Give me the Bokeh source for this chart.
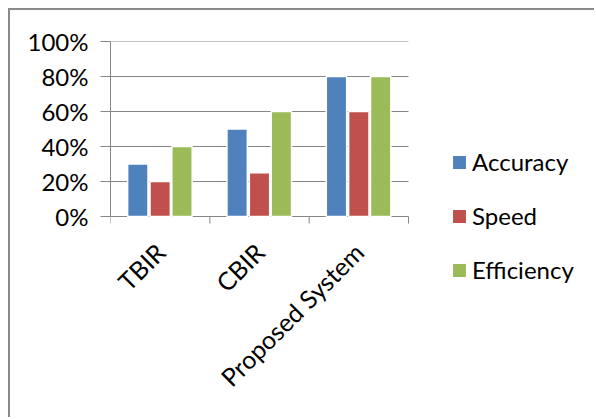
import math
from bokeh.plotting import figure
from bokeh.models import (Range1d, FixedTicker, NumeralTickFormatter, Legend, LegendItem,
                          ColumnDataSource)
from bokeh.core.properties import value
from bokeh.transform import dodge
from bokeh.embed import file_html
from bokeh.resources import INLINE

categories = ["TBIR", "CBIR", "Proposed System"]
series_names = ["Accuracy", "Speed", "Efficiency"]
accuracy = [0.30, 0.50, 0.80]
speed = [0.20, 0.25, 0.60]
efficiency = [0.40, 0.60, 0.80]
y_ticks = [0, 0.2, 0.4, 0.6, 0.8, 1.0]

colors = ["#4F81BD", "#C0504D", "#9BBB59"]
offsets = [-0.225, 0.0, 0.22]
FONT = "Lato"
GRAY = "#868686"
BORDER = "2px solid #8a8a8a"

# layout geometry (pixels)
W, H = 586, 409            # inner figure size (plus 8px margin + 2px border)
LEFT, TOP = 100, 31        # frame offsets inside figure
PLOT_W, PLOT_H = 298, 175  # width of the 3 category slots, height of the 0..100% span
frame_w, frame_h = W - LEFT, H - TOP

n = len(categories)
px_x = PLOT_W / n          # pixels per category
px_y = PLOT_H / 1.0        # pixels per 100%
centers = [i + 0.5 for i in range(n)]
edges = list(range(n + 1))

src = ColumnDataSource(dict(x=centers, cat=categories, Accuracy=accuracy, Speed=speed,
                            Efficiency=efficiency))

p = figure(x_range=Range1d(0, frame_w / px_x), y_range=Range1d(1 - frame_h / px_y, 1),
           width=W, height=H, output_backend="svg", toolbar_location=None,
           x_axis_location=None, y_axis_location="left",
           min_border_left=LEFT, min_border_right=0, min_border_top=TOP, min_border_bottom=0)
p.margin = (8, 0, 0, 8)
p.styles = {"border-top": BORDER, "border-left": BORDER}
p.outline_line_color = None
p.background_fill_color = "white"
p.border_fill_color = "white"
p.xgrid.visible = False
p.ygrid.visible = False

# y axis (percent)
ya = p.yaxis[0]
ya.bounds = (0, 1)
ya.ticker = FixedTicker(ticks=y_ticks)
ya.formatter = NumeralTickFormatter(format="0%")
ya.major_tick_out = 10
ya.major_tick_in = 0
ya.minor_tick_line_color = None
ya.axis_line_color = GRAY
ya.major_tick_line_color = GRAY
ya.major_label_text_font = FONT
ya.major_label_text_font_size = "24px"
ya.major_label_text_color = "black"
ya.major_label_standoff = 12

# horizontal grid lines over the category span (0% line doubles as x axis line)
p.segment(x0=[0] * len(y_ticks), y0=y_ticks, x1=[n] * len(y_ticks), y1=y_ticks,
          line_color=GRAY, line_width=1)
# category boundary tick marks below the x axis
tick_len = 7 / px_y
p.segment(x0=edges, y0=[0] * len(edges), x1=edges, y1=[-tick_len] * len(edges),
          line_color=GRAY, line_width=1)

renderers = []
for i, name in enumerate(series_names):
    r = p.vbar(x=dodge("x", offsets[i]), top=name, width=0.205, source=src,
               fill_color=colors[i], line_color="white", line_width=1.5)
    renderers.append(r)

# rotated category labels
p.text(x="x", y=-31 / px_y, text="cat", source=src, angle=math.pi / 4,
       text_align="right", text_baseline="middle", text_font=value(FONT),
       text_font_size=value("25px"), text_color="black")

legend = Legend(items=[LegendItem(label=nm, renderers=[r]) for nm, r in zip(series_names, renderers)],
                location=(340, 135), glyph_width=18, glyph_height=18,
                label_height=27, spacing=25, padding=0, margin=0, label_standoff=4,
                label_text_font=FONT, label_text_font_size="24px", label_text_color="black",
                border_line_color=None, background_fill_alpha=0)
p.add_layout(legend, "center")

open("out.html", "w").write(file_html(p, INLINE))
